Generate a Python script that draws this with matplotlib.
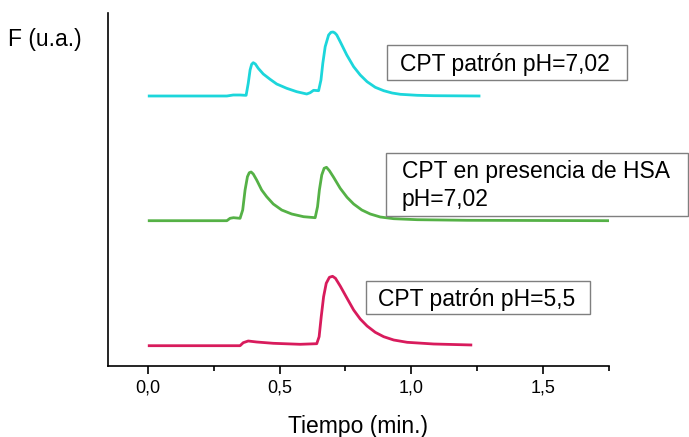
import matplotlib
matplotlib.use("Agg")
import matplotlib.pyplot as plt
from matplotlib.patches import Rectangle
from matplotlib.ticker import FixedLocator

plt.rcParams['font.family'] = ['Liberation Sans', 'DejaVu Sans']

# tiempo (min.) y fluorescencia (u.a., desplazada)
t_cyan = [0.0, 0.30, 0.324, 0.350, 0.369, 0.373, 0.381, 0.388, 0.394, 0.400, 0.408,
          0.419, 0.438, 0.464, 0.489, 0.527, 0.565, 0.603, 0.616, 0.629, 0.648,
          0.657, 0.664, 0.673, 0.686, 0.695, 0.703, 0.710, 0.717, 0.730, 0.755,
          0.781, 0.806, 0.832, 0.863, 0.895, 0.927, 0.958, 1.022, 1.085, 1.262]
f_cyan = [269.7, 269.7, 270.7, 270.7, 270.4, 270.4, 282.4, 295.7, 301.4, 303.0, 301.7,
          297.4, 291.7, 286.4, 281.7, 277.4, 274.0, 271.7, 273.0, 275.4, 275.0,
          285.7, 302.4, 319.0, 330.7, 333.4, 333.7, 332.7, 330.7, 324.0, 310.7,
          299.0, 290.7, 284.0, 278.4, 275.0, 272.7, 271.4, 270.4, 270.0, 269.7]

t_green = [0.0, 0.30, 0.312, 0.325, 0.350, 0.360, 0.369, 0.378, 0.385, 0.392, 0.400,
           0.413, 0.432, 0.451, 0.476, 0.508, 0.546, 0.591, 0.635, 0.644, 0.651,
           0.660, 0.669, 0.678, 0.689, 0.705, 0.730, 0.756, 0.781, 0.812, 0.844,
           0.882, 0.933, 1.022, 1.212, 1.752]
f_green = [145.0, 145.0, 147.4, 148.0, 147.4, 155.7, 175.7, 189.0, 193.0, 193.7, 191.7,
           185.7, 175.7, 169.0, 161.7, 155.7, 151.7, 149.0, 148.0, 159.0, 175.7,
           190.7, 197.4, 198.4, 195.0, 188.4, 177.4, 168.4, 161.7, 155.7, 151.7,
           148.7, 147.0, 146.0, 145.4, 145.0]

t_pink = [0.0, 0.350, 0.362, 0.381, 0.413, 0.476, 0.578, 0.641, 0.650, 0.658, 0.667,
          0.677, 0.689, 0.701, 0.712, 0.730, 0.756, 0.781, 0.806, 0.832, 0.863,
          0.895, 0.933, 0.984, 1.085, 1.231]
f_pink = [20.0, 20.0, 23.0, 24.7, 23.7, 22.4, 21.4, 22.0, 29.0, 49.0, 69.0,
          82.4, 88.4, 89.4, 87.4, 79.7, 67.4, 55.7, 46.7, 39.7, 33.4,
          29.0, 25.7, 23.4, 21.7, 20.7]

tick_pos = [0.0, 0.5, 1.0, 1.5]
tick_lab = ['0,0', '0,5', '1,0', '1,5']

W, H = 689, 437
fig = plt.figure(figsize=(W / 100, H / 100), dpi=100)
ax = fig.add_axes([108.3 / W, (H - 365.7) / H, (609 - 108.3) / W, (365.7 - 12.7) / H])

for t, f, c in [(t_cyan, f_cyan, '#1cd6db'), (t_green, f_green, '#55b146'),
                (t_pink, f_pink, '#d81b5c')]:
    ax.plot(t, f, color=c, lw=2.0, solid_joinstyle='round', solid_capstyle='butt')

ax.set_xlim(-0.15, 1.75)
ax.set_ylim(0, 353)
ax.spines['top'].set_visible(False)
ax.spines['right'].set_visible(False)
ax.spines['left'].set_linewidth(1.2)
ax.spines['bottom'].set_linewidth(1.2)
ax.set_yticks([])
ax.set_xticks(tick_pos)
ax.set_xticklabels(tick_lab)
ax.xaxis.set_minor_locator(FixedLocator([0.25, 0.75, 1.25, 1.75]))
ax.tick_params(axis='x', which='major', direction='out', length=6, width=1.2,
               labelsize=13, pad=4)
ax.tick_params(axis='x', which='minor', direction='out', length=3.5, width=1.2)

fig.text(358.5 / W, 1 - 433 / H, 'Tiempo (min.)', ha='center', va='baseline', fontsize=16.5)
fig.text(8 / W, 1 - 46 / H, 'F (u.a.)', ha='left', va='baseline', fontsize=16.5)


def caja(x0, y0, x1, y1):
    fig.patches.append(Rectangle((x0 / W, 1 - y1 / H), (x1 - x0) / W, (y1 - y0) / H,
                                 transform=fig.transFigure, fill=False,
                                 edgecolor='#7f7f7f', lw=1.0))


caja(387.3, 44.7, 627.3, 80.0)
fig.text(400 / W, 1 - 70.7 / H, 'CPT patrón pH=7,02', ha='left', va='baseline', fontsize=16.5)

caja(386, 152.5, 688.3, 215.5)
fig.text(401.5 / W, 1 - 178.3 / H, 'CPT en presencia de HSA', ha='left', va='baseline',
         fontsize=16.5)
fig.text(401.5 / W, 1 - 206 / H, 'pH=7,02', ha='left', va='baseline', fontsize=16.5)

caja(366, 280.7, 590, 314.3)
fig.text(378 / W, 1 - 306 / H, 'CPT patrón pH=5,5', ha='left', va='baseline', fontsize=16.5)

fig.savefig('out.png', dpi=100)
